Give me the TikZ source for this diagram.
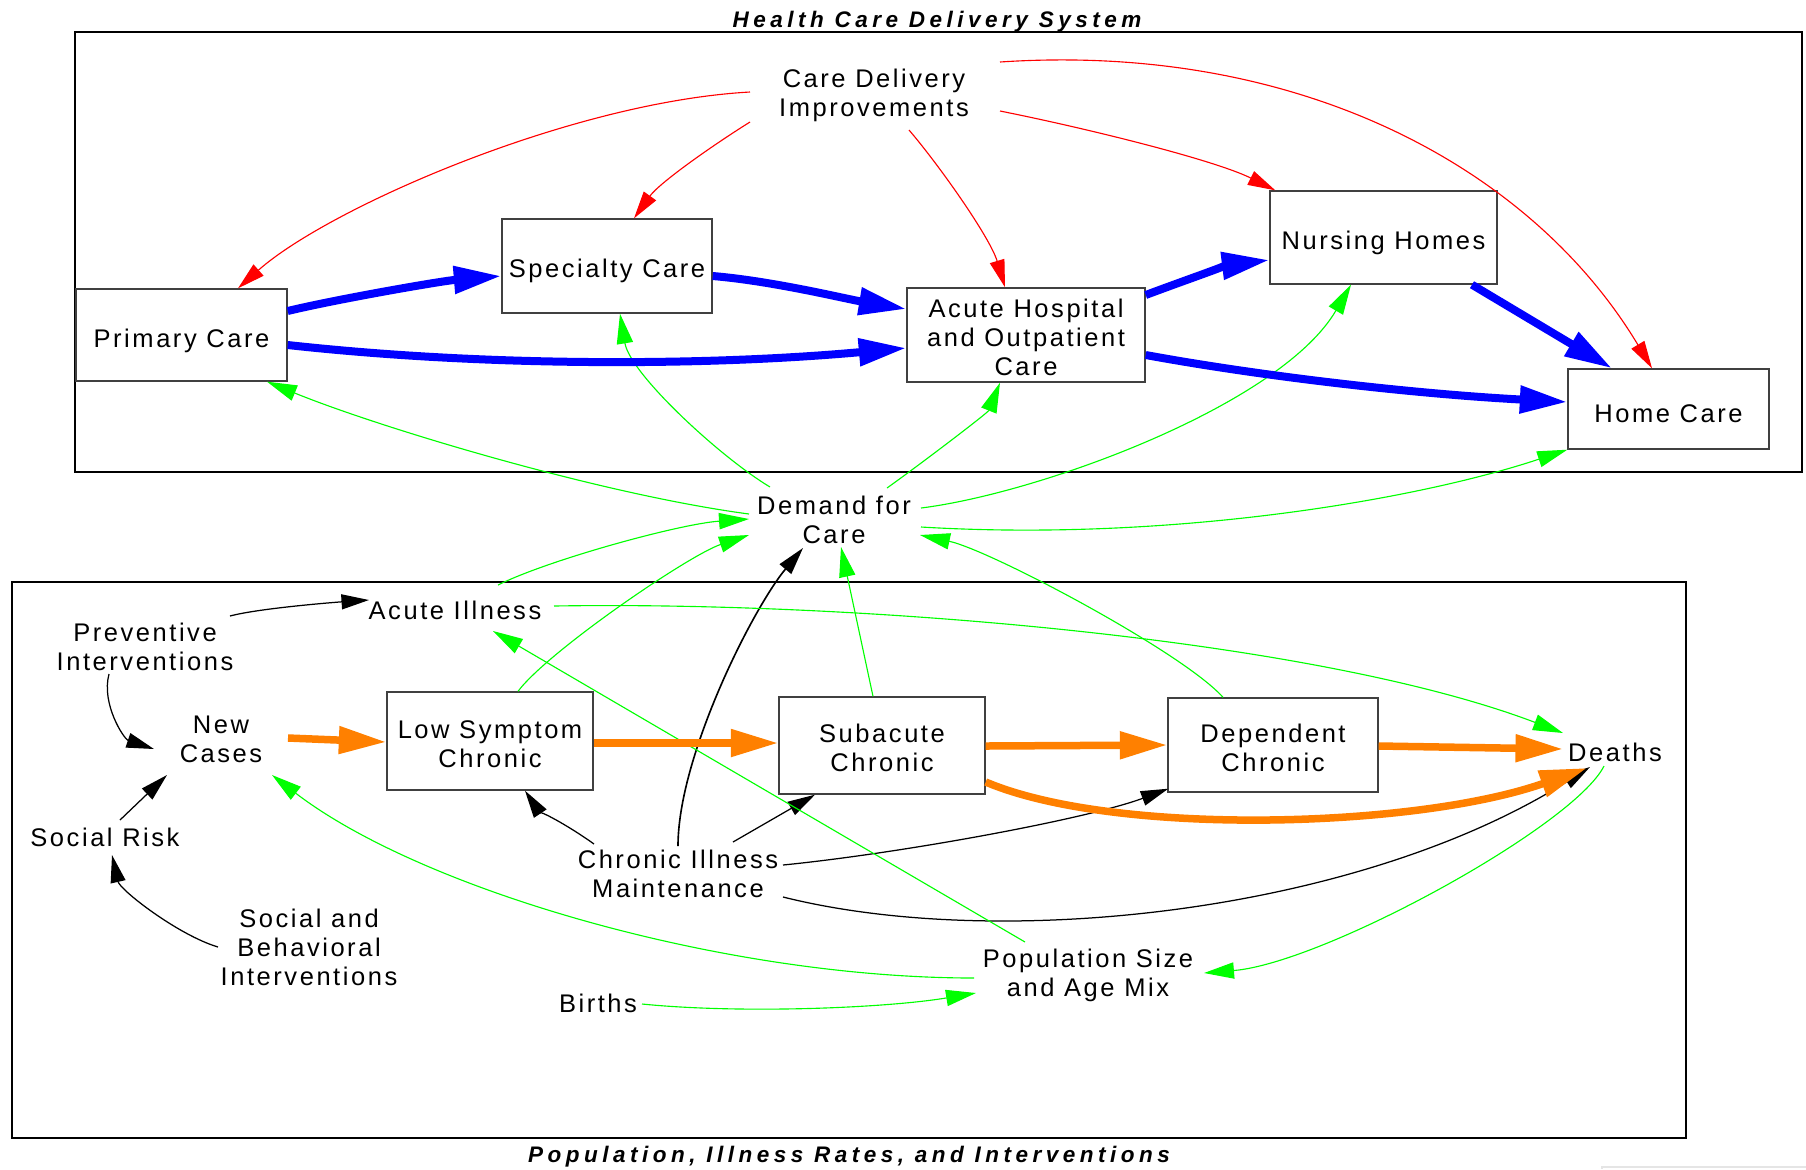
\documentclass[tikz,border=0pt]{standalone}
\usepackage{fontspec}
\setmainfont{Liberation Sans}[LetterSpace=10]
\newfontfamily\titlefont{Liberation Sans}[LetterSpace=20]
\usetikzlibrary{arrows.meta}
\definecolor{flowblue}{RGB}{0,0,255}
\definecolor{floworange}{RGB}{255,128,0}
\definecolor{linkred}{RGB}{255,0,0}
\definecolor{linkgreen}{RGB}{0,255,0}
\definecolor{boxgray}{RGB}{64,64,64}
\begin{document}
\begin{tikzpicture}[x=0.4pt,y=-0.4pt,
  font=\fontsize{10.2}{11.6}\selectfont,
  stock/.style={draw=boxgray,line width=0.55pt,inner sep=0pt},
  txt/.style={align=center,inner sep=0pt},
  sector/.style={draw=black,line width=0.55pt},
  sectiontitle/.style={inner sep=0pt,font=\titlefont\bfseries\itshape\fontsize{9}{10}\selectfont},
  redlink/.style={draw=linkred,line width=0.45pt,-{Triangle[length=11pt,width=6pt]}},
  greenlink/.style={draw=linkgreen,line width=0.45pt,-{Triangle[length=12pt,width=6.5pt]}},
  blacklink/.style={draw=black,line width=0.5pt,-{Triangle[length=11pt,width=6pt]}},
  blueflow/.style={draw=flowblue,line width=3.2pt,-{Triangle[length=19pt,width=10.5pt]}},
  orangeflow/.style={draw=floworange,line width=3pt,-{Triangle[length=19pt,width=10.5pt]}}
]
\useasboundingbox (0,0) rectangle (1806,1169);

% sector frames and their titles
\draw[sector] (75,32) rectangle (1802,472);
\draw[sector] (12,582) rectangle (1686,1138);
\node[sectiontitle] (toptitle) at (937,21.5) {Health Care Delivery System};
\node[sectiontitle] (bottitle) at (849,1157) {Population, Illness Rates, and Interventions};
\draw[gray!20,line width=0.5pt] (1602,1169) -- (1602,1167) -- (1806,1167);

% care delivery stocks
\node[stock,minimum width=84.4pt,minimum height=36.8pt] (prim) at (181.5,335) {};
\node[stock,minimum width=84pt,minimum height=37.6pt] (spec) at (607,266) {};
\node[stock,minimum width=95.2pt,minimum height=37.6pt] (acute) at (1026,335) {};
\node[stock,minimum width=90.8pt,minimum height=37.2pt] (nurse) at (1383.5,237.5) {};
\node[stock,minimum width=80.4pt,minimum height=32pt] (home) at (1668.5,409) {};
\node[txt] (primtext) at ([yshift=-2.5pt]prim.center) {Primary Care};
\node[txt] (spectext) at ([yshift=-1.8pt]spec.center) {Specialty Care};
\node[txt] (acutetext) at ([yshift=-0.9pt]acute.center) {Acute Hospital\\and Outpatient\\Care};
\node[txt] (nursetext) at ([yshift=-2.2pt]nurse.center) {Nursing Homes};
\node[txt] (hometext) at ([yshift=-1.8pt]home.center) {Home Care};

% illness stocks
\node[stock,minimum width=82.4pt,minimum height=39.2pt] (lowsym) at (490,741) {};
\node[stock,minimum width=82.4pt,minimum height=38.8pt] (subac) at (882,745.5) {};
\node[stock,minimum width=84pt,minimum height=37.6pt] (depch) at (1273,745) {};
\node[txt] (lowsymtext) at ([yshift=-1.3pt]lowsym.center) {Low Symptom\\Chronic};
\node[txt] (subactext) at ([yshift=-0.8pt]subac.center) {Subacute\\Chronic};
\node[txt] (depchtext) at ([yshift=-1.1pt]depch.center) {Dependent\\Chronic};

% auxiliary variables
\node[txt] (cdi) at (874,95) {Care Delivery\\Improvements};
\node[txt] (demand) at (834,520) {Demand for\\Care};
\node[txt] (acuteill) at (455,610) {Acute Illness};
\node[txt] (prev) at (145,647) {Preventive\\Interventions};
\node[txt] (newcases) at (221,739) {New\\Cases};
\node[txt] (socrisk) at (105,837) {Social Risk};
\node[txt] (sbi) at (309,947) {Social and\\Behavioral\\Interventions};
\node[txt] (cim) at (678,874) {Chronic Illness\\Maintenance};
\node[txt] (births) at (598,1003) {Births};
\node[txt] (pop) at (1088,975) {Population Size\\and Age Mix};
\node[txt] (deaths) at (1615,752) {Deaths};

% care delivery improvements
\draw[redlink] ([shift={(-124,-3)}]cdi.center) .. controls +(-180,10) and +(90,-80) .. ([shift={(56.5,0)}]prim.north);
\draw[redlink] ([shift={(-124,27)}]cdi.center) .. controls +(-40,25) and +(25,-35) .. ([shift={(27,0)}]spec.north);
\draw[redlink] ([shift={(35,35)}]cdi.center) .. controls +(30,35) and +(-15,-50) .. ([shift={(-21,0)}]acute.north);
\draw[redlink] ([shift={(126,16)}]cdi.center) .. controls +(90,18) and +(-60,-30) .. ([shift={(6,0)}]nurse.north west);
\draw[redlink] ([shift={(126,-33)}]cdi.center) .. controls +(300,-20) and +(-120,-200) .. ([shift={(-16.5,0)}]home.north);

% demand for care
\draw[greenlink] ([shift={(-85,-6)}]demand.center) .. controls +(-150,-20) and +(110,45) .. ([shift={(85.5,0)}]prim.south);
\draw[greenlink] ([shift={(-64,-33)}]demand.center) .. controls +(-50,-30) and +(10,60) .. ([shift={(13,0)}]spec.south);
\draw[greenlink] ([shift={(53,-32)}]demand.center) .. controls +(35,-25) and +(-12,30) .. ([shift={(-26,0)}]acute.south);
\draw[greenlink] ([shift={(87,-12)}]demand.center) .. controls +(120,-15) and +(-70,120) .. ([shift={(-32.5,0)}]nurse.south);
\draw[greenlink] ([shift={(87,7)}]demand.center) .. controls +(250,15) and +(-150,50) .. (home.south west);

\draw[greenlink] ([shift={(43,-25)}]acuteill.center) .. controls +(50,-25) and +(-70,5) .. ([shift={(-85,-1)}]demand.center);
\draw[greenlink] ([shift={(28,0)}]lowsym.north) .. controls +(30,-40) and +(-60,20) .. ([shift={(-85,15)}]demand.center);
\draw[greenlink] ([shift={(-9,0)}]subac.north) -- ([shift={(7,27)}]demand.center);
\draw[greenlink] ([shift={(-50,0)}]depch.north) .. controls +(-40,-45) and +(70,15) .. ([shift={(86,15)}]demand.center);
\draw[blacklink,line width=0.65pt] ([shift={(0,-28)}]cim.center) .. controls +(0,-90) and +(-50,60) .. ([shift={(-31,28)}]demand.center);

% interventions and risks
\draw[blacklink] ([shift={(85,-31)}]prev.center) .. controls +(30,-8) and +(-30,2) .. ([shift={(-86,-10)}]acuteill.center);
\draw[blacklink] ([shift={(-36,27)}]prev.center) .. controls +(-8,30) and +(-30,-10) .. ([shift={(-67,10)}]newcases.center);
\draw[blacklink] ([shift={(15,-17)}]socrisk.center) -- ([shift={(-54,36)}]newcases.center);
\draw[blacklink] ([shift={(-91,0)}]sbi.center) .. controls +(-40,-12) and +(8,35) .. ([shift={(7,18)}]socrisk.center);
\draw[blacklink] ([shift={(-84,-30)}]cim.center) .. controls +(-25,-18) and +(12,18) .. ([shift={(35,0)}]lowsym.south);
\draw[blacklink] ([shift={(55,-32)}]cim.center) -- ([shift={(-67,0)}]subac.south);
\draw[blacklink] ([shift={(105,-9)}]cim.center) .. controls +(120,-12) and +(-80,30) .. ([shift={(1,-4)}]depch.south west);
\draw[blacklink] ([shift={(105,23)}]cim.center) .. controls +(220,55) and +(-230,145) .. ([shift={(-25,15)}]deaths.center);

% population links
\draw[greenlink] ([shift={(99,-4)}]acuteill.center) .. controls +(300,-5) and +(-250,-95) .. ([shift={(-52,-19)}]deaths.center);
\draw[greenlink] ([shift={(-63,-33)}]pop.center) -- ([shift={(38,21)}]acuteill.center);
\draw[greenlink] ([shift={(-114,3)}]pop.center) .. controls +(-250,0) and +(150,115) .. ([shift={(51,36)}]newcases.center);
\draw[greenlink] ([shift={(44,1)}]births.center) .. controls +(100,10) and +(-90,15) .. ([shift={(-112,18)}]pop.center);
\draw[greenlink] ([shift={(-11,14)}]deaths.center) .. controls +(-30,60) and +(120,-10) .. ([shift={(116,-2)}]pop.center);

% patient flows between care settings
\draw[blueflow] ([shift={(0,-24)}]prim.east) .. controls +(50,-12) and +(-60,5) .. ([shift={(0,10)}]spec.west);
\draw[blueflow] ([shift={(0,10)}]prim.east) .. controls +(200,22) and +(-200,18) .. ([shift={(0,13)}]acute.west);
\draw[blueflow] ([shift={(0,10)}]spec.east) .. controls +(60,5) and +(-60,-10) .. ([shift={(0,-26)}]acute.west);
\draw[blueflow] ([shift={(0,-40)}]acute.east) .. controls +(40,-15) and +(-40,5) .. ([shift={(0,22.5)}]nurse.west);
\draw[blueflow] ([shift={(0,20)}]acute.east) .. controls +(120,22) and +(-150,-8) .. ([shift={(0,-7)}]home.west);
\draw[blueflow] ([shift={(88.5,0)}]nurse.south) -- ([shift={(-56.5,0)}]home.north);

% illness progression
\draw[orangeflow] ([shift={(67,-1)}]newcases.center) -- ([shift={(0,1)}]lowsym.west);
\draw[orangeflow] ([shift={(0,2)}]lowsym.east) -- ([shift={(0,-2.5)}]subac.west);
\draw[orangeflow] ([shift={(0,0.5)}]subac.east) -- (depch.west);
\draw[orangeflow] ([shift={(0,1)}]depch.east) -- ([shift={(-52,-3)}]deaths.center);
\draw[orangeflow] ([shift={(0,36.5)}]subac.east) .. controls +(130,55) and +(-170,60) .. ([shift={(-28,16)}]deaths.center);
\end{tikzpicture}
\end{document}
